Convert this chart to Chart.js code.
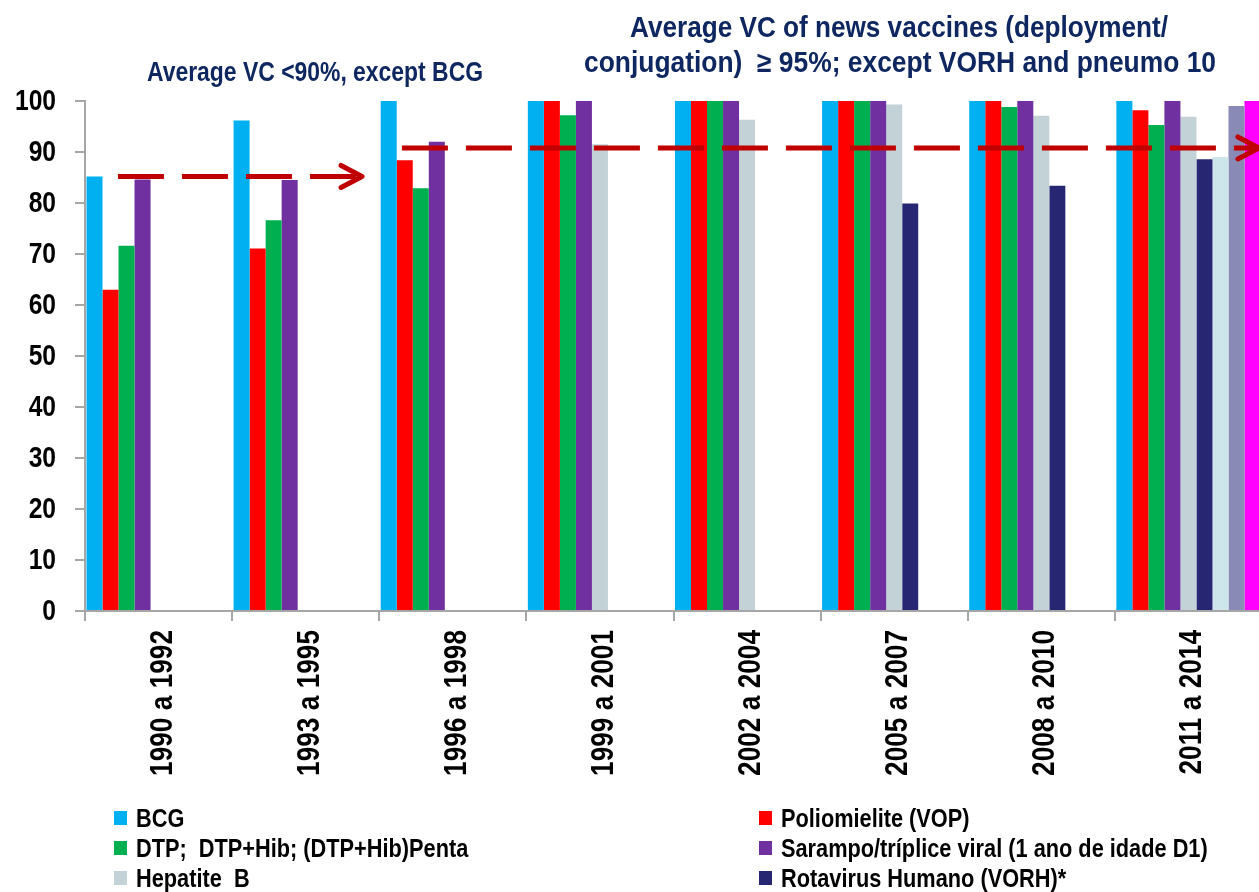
<!DOCTYPE html>
<html>
<head>
<meta charset="utf-8">
<script src="https://cdn.jsdelivr.net/npm/chart.js@4.4.1/dist/chart.umd.min.js"></script>
<style>
  html, body { margin: 0; padding: 0; background: #fff; overflow: hidden; }
  #wrap { position: relative; width: 1262px; height: 892px; }
</style>
</head>
<body>
<div id="wrap"><canvas id="c"></canvas></div>
<script>
// ---------------- data ----------------
const categories = ['1990 a 1992', '1993 a 1995', '1996 a 1998', '1999 a 2001',
                    '2002 a 2004', '2005 a 2007', '2008 a 2010', '2011 a 2014'];
const yTicks = [0, 10, 20, 30, 40, 50, 60, 70, 80, 90, 100];

const seriesNames = ['BCG', 'Poliomielite (VOP)', 'DTP;  DTP+Hib; (DTP+Hib)Penta',
                     'Sarampo/tríplice viral (1 ano de idade D1)', 'Hepatite  B',
                     'Rotavirus Humano (VORH)*', 'Série 7', 'Série 8', 'Série 9'];

const bcg      = [85.2, 96.2, 100, 100, 100, 100, 100, 100];
const polio    = [63.0, 71.1, 88.4, 100, 100, 100, 100, 98.2];
const dtp      = [71.6, 76.6, 82.9, 97.2, 100, 100, 98.8, 95.3];
const sarampo  = [84.6, 84.5, 92.0, 100, 100, 100, 100, 100];
const hepB     = [null, null, null, 91.5, 96.3, 99.3, 97.1, 96.9];
const vorh     = [null, null, null, null, null, 79.9, 83.4, 88.6];
const serie7   = [null, null, null, null, null, null, null, 89.0];
const serie8   = [null, null, null, null, null, null, null, 99.0];
const serie9   = [null, null, null, null, null, null, null, 100];

// average-coverage arrows: [startIndex, endIndex, value]
const avgArrow1 = [-0.276, 1.383, 85.2];
const avgArrow2 = [1.654, 7.479, 90.8];

const noteLeft = ['Average VC <90%, except BCG'];
const noteRight = ['Average VC of news vaccines (deployment/', 'conjugation)  \u2265 95%; except VORH and pneumo 10'];

// ---------------- styles ----------------
const colors = ['#00B0F0', '#FF0000', '#00B050', '#7030A0', '#C2D2D6',
                '#262673', '#CDE6EB', '#8A8AB6', '#FF00FF'];
const seriesData = [bcg, polio, dtp, sarampo, hepB, vorh, serie7, serie8, serie9];
const FONT = "'Liberation Sans', Arial, sans-serif";
const AXIS = '#A6A6A6';

const datasets = seriesData.map((d, i) => ({
  label: seriesNames[i],
  data: d,
  backgroundColor: colors[i],
  borderWidth: 0,
  categoryPercentage: 0.98,
  barPercentage: 1.0
}));

// draw horizontally condensed text (Arial Narrow look)
function narrowText(ctx, text, x, y, align, sx) {
  ctx.save();
  ctx.translate(x, y);
  ctx.scale(sx, 1);
  ctx.textAlign = align;
  ctx.fillText(text, 0, 0);
  ctx.restore();
}
function fitText(ctx, text, left, right, y) {
  const w = ctx.measureText(text).width;
  ctx.save();
  ctx.translate(left, y);
  ctx.scale((right - left) / w, 1);
  ctx.textAlign = 'left';
  ctx.fillText(text, 0, 0);
  ctx.restore();
}

const overlayPlugin = {
  id: 'overlay',
  afterDatasetsDraw(chart) {
    const ctx = chart.ctx, x = chart.scales.x, y = chart.scales.y;
    ctx.save();
    ctx.strokeStyle = '#C00000';
    ctx.lineWidth = 5;
    [avgArrow1, avgArrow2].forEach(a => {
      const x0 = x.getPixelForValue(a[0]);
      const x1 = x.getPixelForValue(a[1]);
      const yy = y.getPixelForValue(a[2]);
      ctx.setLineDash([46, 18]);
      ctx.lineCap = 'butt';
      ctx.beginPath(); ctx.moveTo(x0, yy); ctx.lineTo(x1 - 6, yy); ctx.stroke();
      ctx.setLineDash([]);
      ctx.lineCap = 'round';
      ctx.lineJoin = 'round';
      ctx.beginPath();
      ctx.moveTo(x1 - 21, yy - 11); ctx.lineTo(x1, yy); ctx.lineTo(x1 - 21, yy + 11);
      ctx.stroke();
    });
    ctx.restore();
  },
  afterDraw(chart) {
    const ctx = chart.ctx, xs = chart.scales.x, ys = chart.scales.y;
    ctx.save();
    // y tick labels
    ctx.fillStyle = '#000';
    ctx.font = 'bold 30px ' + FONT;
    ctx.textBaseline = 'middle';
    ys.ticks.forEach(t => {
      narrowText(ctx, String(t.value), 56, ys.getPixelForValue(t.value) + 1, 'right', 0.82);
    });
    // x tick labels (rotated, reading bottom-to-top)
    ctx.font = 'bold 32px ' + FONT;
    ctx.textBaseline = 'alphabetic';
    chart.data.labels.forEach((lab, i) => {
      const cx = xs.getPixelForTick(i);
      ctx.save();
      ctx.translate(cx + 13, chart.chartArea.bottom + 19);
      ctx.rotate(-Math.PI / 2);
      narrowText(ctx, lab, 0, 0, 'right', 0.82);
      ctx.restore();
    });
    // notes
    ctx.fillStyle = '#0E2760';
    ctx.font = 'bold 28px ' + FONT;
    fitText(ctx, noteLeft[0], 147, 483, 81);
    ctx.font = 'bold 29px ' + FONT;
    fitText(ctx, noteRight[0], 630, 1168, 37);
    fitText(ctx, noteRight[1], 584, 1216, 72);
    // legend (first six series)
    ctx.textBaseline = 'alphabetic';
    ctx.font = 'bold 25px ' + FONT;
    const order = [0, 2, 4, 1, 3, 5];
    order.forEach((di, k) => {
      const ds = chart.data.datasets[di];
      const col = Math.floor(k / 3), row = k % 3;
      const sx = col === 0 ? 114 : 759;
      const cy = 818 + row * 30;
      ctx.fillStyle = ds.backgroundColor;
      ctx.fillRect(sx, cy - 7, 13, 14);
      ctx.fillStyle = '#000';
      narrowText(ctx, ds.label, sx + 22, cy + 9, 'left', 0.87);
    });
    ctx.restore();
  }
};

new Chart(document.getElementById('c'), {
  type: 'bar',
  data: { labels: categories, datasets },
  options: {
    responsive: true,
    maintainAspectRatio: false,
    animation: false,
    devicePixelRatio: 1,
    layout: { padding: { top: 101, left: 0, right: 0, bottom: 0 } },
    plugins: { legend: { display: false }, tooltip: { enabled: false }, title: { display: false } },
    scales: {
      x: {
        grid: { display: true, drawOnChartArea: false, drawTicks: true, tickLength: 10, color: AXIS, lineWidth: 2, offset: true },
        border: { display: true, color: AXIS, width: 2 },
        ticks: { display: false, autoSkip: false },
        afterFit(s) { s.height = 281; }
      },
      y: {
        min: 0, max: 100,
        afterBuildTicks(s) { s.ticks = yTicks.map(v => ({ value: v })); },
        grid: { display: true, drawOnChartArea: false, drawTicks: true, tickLength: 10, color: AXIS, lineWidth: 2 },
        border: { display: true, color: AXIS, width: 2 },
        ticks: { display: false },
        afterFit(s) { s.width = 85; }
      }
    }
  },
  plugins: [overlayPlugin]
});
</script>
</body>
</html>
